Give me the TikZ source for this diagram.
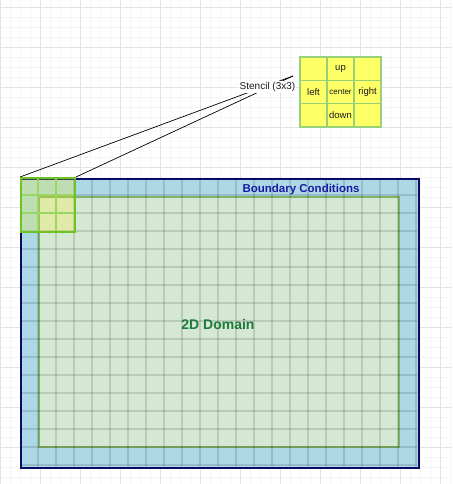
\documentclass[tikz,border=0pt]{standalone}
\usepackage{fontspec}
\setmainfont{Liberation Sans}
\definecolor{bgminor}{HTML}{F5F5F5}
\definecolor{bgmajor}{HTML}{E3E3E3}
\definecolor{bcfill}{HTML}{ADD8E6}
\definecolor{bcline}{HTML}{0B0B66}
\definecolor{domfill}{HTML}{D5E8D4}
\definecolor{domline}{HTML}{82B366}
\definecolor{stfill}{HTML}{FFFF66}
\definecolor{stline}{HTML}{97D077}
\definecolor{hlline}{HTML}{6CC424}
\definecolor{bctext}{HTML}{1A1AA6}
\definecolor{domtext}{HTML}{1E7B3A}
\tikzset{
  minorline/.style={bgminor, line width=0.8pt},
  majorline/.style={bgmajor, line width=0.8pt},
  cellgrid/.style={black, opacity=0.12, line width=1.2pt},
  stcell/.style={draw=stline, fill=stfill, line width=1.6pt, minimum width=27pt, minimum height=23.3pt, inner sep=0pt, font=\fontsize{9.5}{11}\selectfont, text=black!90},
  connector/.style={black, line width=0.7pt},
}
\begin{document}
\begin{tikzpicture}[x=1pt,y=-1pt]
\useasboundingbox (0,0) rectangle (452,484);
\fill[white] (0,0) rectangle (452,484);
% background grid
\foreach \i in {0,...,45} {\draw[minorline] (\i*10,0) -- (\i*10,484);}
\foreach \j in {0,...,48} {\draw[minorline] (0,{7+\j*10-10}) -- (452,{7+\j*10-10});}
\foreach \i in {0,...,11} {\draw[majorline] (\i*40,0) -- (\i*40,484);}
\foreach \j in {0,...,12} {\draw[majorline] (0,{7+\j*40}) -- (452,{7+\j*40});}
% boundary region
\node[draw=bcline, fill=bcfill, line width=2pt, minimum width=398pt, minimum height=289pt, inner sep=0pt, anchor=north west] (bc) at (19.5,177.5) {};
% domain
\node[draw=domline, fill=domfill, line width=1.8pt, minimum width=360pt, minimum height=250pt, inner sep=0pt, anchor=north west] (dom) at (38,196) {};
% cell grid
\foreach \i in {1,...,22} {\draw[cellgrid] ({20+\i*18},178.5) -- ({20+\i*18},465.5);}
\foreach \j in {1,...,16} {\draw[cellgrid] (20.5,{177+\j*18}) -- (417,{177+\j*18});}
% stencil highlight
\fill[yellow, opacity=0.22] (20,177) rectangle (74,231);
\draw[hlline!70, line width=1.5pt] (38,177) -- (38,231) (56,177) -- (56,231) (20,195) -- (74,195) (20,213) -- (74,213);
\node[draw=hlline, line width=2pt, minimum width=54pt, minimum height=54pt, inner sep=0pt, anchor=north west] (sh) at (20,177) {};
% labels in domain
\node[font=\bfseries\fontsize{11.5}{13}\selectfont, text=bctext] (bclbl) at (301,189.5) {Boundary Conditions};
\node[font=\bfseries\fontsize{14}{16}\selectfont, text=domtext] (domlbl) at (218,324) {2D Domain};
% connectors
\coordinate (tip) at (293,76);
\draw[connector] (sh.north west) -- (tip);
\draw[connector] (sh.north east) -- (tip);
\node[fill=white, inner sep=1pt, font=\fontsize{10}{12}\selectfont, text=black!90] (lbl) at (267.5,87) {Stencil (3x3)};
% stencil zoom
\node[stcell] (s11) at (313.5,68.7) {};
\node[stcell] (s12) at (340.5,68.7) {up};
\node[stcell] (s13) at (367.5,68.7) {};
\node[stcell] (s21) at (313.5,92) {left};
\node[stcell, font=\fontsize{8}{10}\selectfont] (s22) at (340.5,92) {center};
\node[stcell] (s23) at (367.5,92) {right};
\node[stcell] (s31) at (313.5,115.3) {};
\node[stcell] (s32) at (340.5,115.3) {down};
\node[stcell] (s33) at (367.5,115.3) {};
\end{tikzpicture}
\end{document}
